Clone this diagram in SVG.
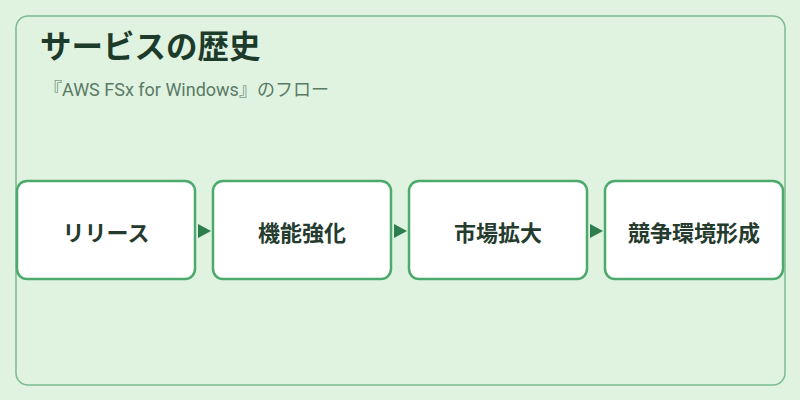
<svg xmlns="http://www.w3.org/2000/svg" width="800" height="400" viewBox="0 0 800 400">
<style>
.node rect{fill:#ffffff;stroke:#4daa6d;stroke-width:2.5}
.node text{font-family:"Noto Sans CJK JP","Noto Sans",sans-serif;font-weight:bold;font-size:22px;fill:#243b2e;text-anchor:middle;dominant-baseline:central}
</style>
<rect x="0" y="0" width="800" height="400" fill="#e0f2e0"/>
<rect x="16" y="16" width="769" height="369" rx="12" fill="#e0f2e0" stroke="#7aba8e" stroke-width="1.5"/>
<text x="40" y="58" font-family="Noto Sans CJK JP,Noto Sans,sans-serif" font-weight="bold" font-size="31.5" fill="#1d3b2b">サービスの歴史</text>
<text x="44" y="96" font-family="Roboto,Noto Sans CJK JP,sans-serif" font-size="18" fill="#5a7a66">『AWS FSx for Windows』のフロー</text>
<g id="connectors">
<path d="M198,224 L211,231 L198,238 Z" fill="#2e7d4f"/>
<path d="M394,224 L407,231 L394,238 Z" fill="#2e7d4f"/>
<path d="M590,224 L603,231 L590,238 Z" fill="#2e7d4f"/>
</g>
<g id="node1" class="node"><rect x="17" y="181" width="178" height="98" rx="10"/><text x="106" y="231">リリース</text></g>
<g id="node2" class="node"><rect x="213" y="181" width="178" height="98" rx="10"/><text x="302" y="231">機能強化</text></g>
<g id="node3" class="node"><rect x="409" y="181" width="178" height="98" rx="10"/><text x="498" y="231">市場拡大</text></g>
<g id="node4" class="node"><rect x="605" y="181" width="178" height="98" rx="10"/><text x="694" y="231">競争環境形成</text></g>
</svg>
